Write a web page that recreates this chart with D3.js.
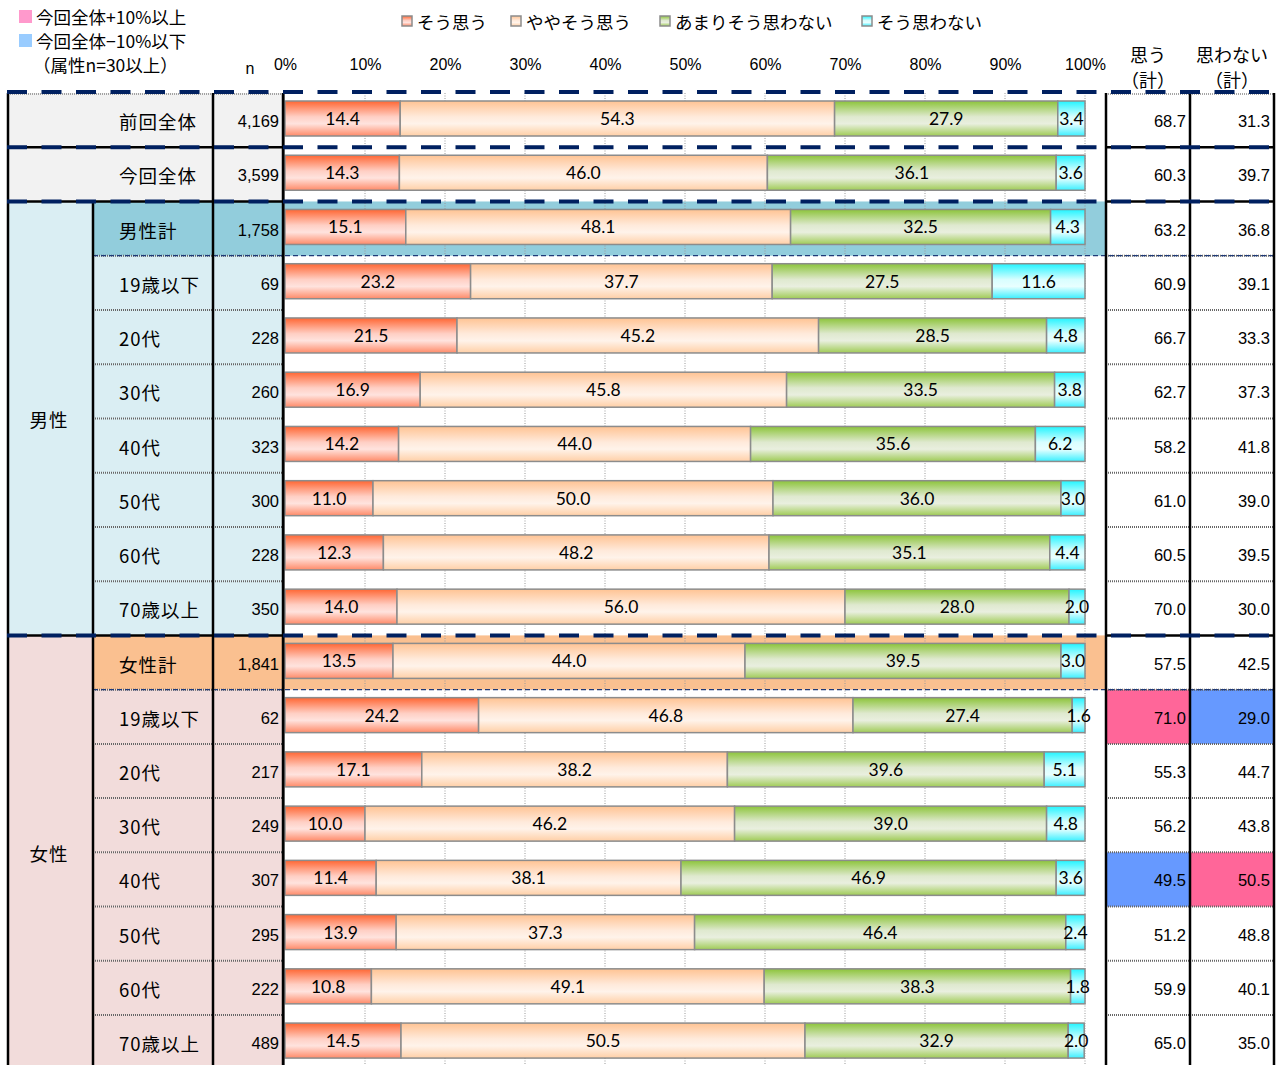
<!DOCTYPE html>
<html>
<head>
<meta charset="utf-8">
<script src="https://cdn.jsdelivr.net/npm/d3@7"></script>
<style>
body { margin: 0; background: #fff; }
svg { display: block; }
</style>
</head>
<body>
<div id="chart"></div>
<script>
// ---- data ----
const rowLabels = ["前回全体","今回全体","男性計","19歳以下","20代","30代","40代","50代","60代","70歳以上",
                   "女性計","19歳以下","20代","30代","40代","50代","60代","70歳以上"];
const nValues = ["4,169","3,599","1,758","69","228","260","323","300","228","350",
                 "1,841","62","217","249","307","295","222","489"];
const groupNames = ["男性","女性"];
const groupRows = [[2, 9], [10, 17]];   // first row = subtotal
const seriesNames = ["そう思う","ややそう思う","あまりそう思わない","そう思わない"];
const soOmou        = [14.4,14.3,15.1,23.2,21.5,16.9,14.2,11.0,12.3,14.0,13.5,24.2,17.1,10.0,11.4,13.9,10.8,14.5];
const yayaSoOmou    = [54.3,46.0,48.1,37.7,45.2,45.8,44.0,50.0,48.2,56.0,44.0,46.8,38.2,46.2,38.1,37.3,49.1,50.5];
const amariOmowanai = [27.9,36.1,32.5,27.5,28.5,33.5,35.6,36.0,35.1,28.0,39.5,27.4,39.6,39.0,46.9,46.4,38.3,32.9];
const soOmowanai    = [3.4,3.6,4.3,11.6,4.8,3.8,6.2,3.0,4.4,2.0,3.0,1.6,5.1,4.8,3.6,2.4,1.8,2.0];
const omouTotal     = [68.7,60.3,63.2,60.9,66.7,62.7,58.2,61.0,60.5,70.0,57.5,71.0,55.3,56.2,49.5,51.2,59.9,65.0];
const omowanaiTotal = [31.3,39.7,36.8,39.1,33.3,37.3,41.8,39.0,39.5,30.0,42.5,29.0,44.7,43.8,50.5,48.8,40.1,35.0];
// +1 : 今回全体+10%以上, -1 : 今回全体-10%以下
const omouMark      = [0,0,0,0,0,0,0,0,0,0,0,1,0,0,-1,0,0,0];
const omowanaiMark  = [0,0,0,0,0,0,0,0,0,0,0,-1,0,0,1,0,0,0];
const tickValues = [0,10,20,30,40,50,60,70,80,90,100];
const legendNotes = ["今回全体+10%以上","今回全体−10%以下","（属性n=30以上）"];
const totalHeaders = [["思う","（計）"],["思わない","（計）"]];

const W = 1285, H = 1065;
const jp = "'Noto Sans CJK JP', 'Noto Sans', sans-serif";
const svg = d3.select("#chart").append("svg").attr("width", W).attr("height", H)
  .style("font-family", jp);

const defs = svg.append("defs");
const grads = [
  ["g0", ["#ff6633","#ffcfc4","#ffe3de","#ff8a68"]],
  ["g1", ["#ffc393","#ffeadb","#fff3ea","#ffcfa6"]],
  ["g2", ["#8cc43a","#dfe9cf","#e9efdf","#9fcb55"]],
  ["g3", ["#22f4ff","#d8feff","#e8ffff","#3aefff"]]
];
grads.forEach(([id, cols]) => {
  const g = defs.append("linearGradient").attr("id", id).attr("x1",0).attr("y1",0).attr("x2",0).attr("y2",1);
  [0, 0.45, 0.65, 1].forEach((o, i) => g.append("stop").attr("offset", o).attr("stop-color", cols[i]));
});
const fills = grads.map(g => "url(#" + g[0] + ")");

// ---- scales ----
const rowH = 54.24, top0 = 93;
const y = d3.scaleBand().domain(d3.range(rowLabels.length))
  .range([top0, top0 + rowH * rowLabels.length]);
const x = d3.scaleLinear().domain([0, 100]).range([285, 1085]);
const bottom = top0 + rowH * rowLabels.length;

const colGroup = 8, colLabel = 93, colN = 213, colChart = 283, chartEnd = 1105,
      colT1 = 1106, colT2 = 1190, colEnd = 1274;

function rowKind(i) {
  if (i < 2) return "all";
  for (let g = 0; g < groupRows.length; g++) {
    if (i === groupRows[g][0]) return "sub" + g;
    if (i > groupRows[g][0] && i <= groupRows[g][1]) return "age" + g;
  }
}
const lightBg = ["#daeef3", "#f2dcdb"], darkBg = ["#92cddc", "#fac090"];

// ---- backgrounds ----
const bg = svg.append("g");
rowLabels.forEach((l, i) => {
  const k = rowKind(i);
  if (k === "all") {
    bg.append("rect").attr("x", colGroup).attr("y", y(i)).attr("width", colChart - colGroup)
      .attr("height", y.bandwidth()).attr("fill", "#f2f2f2");
  } else {
    const g = +k.slice(-1);
    const c = k.startsWith("sub") ? darkBg[g] : lightBg[g];
    bg.append("rect").attr("x", colLabel).attr("y", y(i)).attr("width", colChart - colLabel)
      .attr("height", y.bandwidth()).attr("fill", c);
    if (k.startsWith("sub"))
      bg.append("rect").attr("x", colChart).attr("y", y(i)).attr("width", chartEnd - colChart)
        .attr("height", y.bandwidth()).attr("fill", c);
  }
});
groupRows.forEach(([a, b], g) => {
  bg.append("rect").attr("x", colGroup).attr("y", y(a)).attr("width", colLabel - colGroup)
    .attr("height", y(b) + y.bandwidth() - y(a)).attr("fill", lightBg[g]);
});
const markColor = m => m > 0 ? "#ff6699" : "#6699ff";
rowLabels.forEach((l, i) => {
  if (omouMark[i]) bg.append("rect").attr("x", colT1).attr("y", y(i)).attr("width", colT2 - colT1)
    .attr("height", y.bandwidth()).attr("fill", markColor(omouMark[i]));
  if (omowanaiMark[i]) bg.append("rect").attr("x", colT2).attr("y", y(i)).attr("width", colEnd - colT2)
    .attr("height", y.bandwidth()).attr("fill", markColor(omowanaiMark[i]));
});

// ---- gridlines ----
svg.append("g").selectAll("line").data(tickValues.slice(1)).join("line")
  .attr("x1", d => x(d)).attr("x2", d => x(d)).attr("y1", top0).attr("y2", bottom)
  .attr("stroke", "#9a9a9a").attr("stroke-width", 1).attr("stroke-dasharray", "1,1.5");

// ---- bars ----
const table = rowLabels.map((l, i) => ({
  i, s0: soOmou[i], s1: yayaSoOmou[i], s2: amariOmowanai[i], s3: soOmowanai[i]
}));
const stack = d3.stack().keys(["s0","s1","s2","s3"])(table);
const barH = 35, barOff = 8;
const layers = svg.append("g").selectAll("g").data(stack).join("g").attr("fill", (d, k) => fills[k]);
layers.selectAll("rect").data(d => d).join("rect")
  .attr("x", d => x(d[0])).attr("width", d => x(d[1]) - x(d[0]))
  .attr("y", d => y(d.data.i) + barOff).attr("height", barH)
  .attr("stroke", "#8c8c8c").attr("stroke-width", 1.5);
layers.selectAll("text").data((d, k) => d.map(v => ({v, k}))).join("text")
  .attr("x", d => (x(d.v[0]) + x(d.v[1])) / 2)
  .attr("y", d => y(d.v.data.i) + barOff + barH / 2)
  .attr("text-anchor", "middle").attr("dominant-baseline", "central")
  .attr("fill", "#000").style("font-family", "Lato, 'Liberation Sans', sans-serif").style("font-size", "17.5px")
  .text(d => d3.format(".1f")(d.v.data["s" + d.k]));

// left axis line
svg.append("line").attr("x1", colChart + 1).attr("x2", colChart + 1).attr("y1", top0).attr("y2", bottom)
  .attr("stroke", "#555").attr("stroke-width", 1.5);

// ---- table texts ----
const txt = svg.append("g").attr("fill", "#000");
rowLabels.forEach((l, i) => {
  const cy = y(i) + y.bandwidth() / 2 + 1;
  txt.append("text").attr("x", 119).attr("y", cy).attr("dominant-baseline", "central")
    .style("font-size", "18.5px").style("letter-spacing", "1px").text(l);
  txt.append("text").attr("x", 279).attr("y", cy).attr("dominant-baseline", "central")
    .attr("text-anchor", "end").style("font-family", "'Liberation Sans', Arial, sans-serif")
    .style("font-size", "16.5px").text(nValues[i]);
  txt.append("text").attr("x", 1186).attr("y", cy).attr("dominant-baseline", "central")
    .attr("text-anchor", "end").style("font-family", "'Liberation Sans', Arial, sans-serif")
    .style("font-size", "16.5px").text(d3.format(".1f")(omouTotal[i]));
  txt.append("text").attr("x", 1270).attr("y", cy).attr("dominant-baseline", "central")
    .attr("text-anchor", "end").style("font-family", "'Liberation Sans', Arial, sans-serif")
    .style("font-size", "16.5px").text(d3.format(".1f")(omowanaiTotal[i]));
});
groupRows.forEach(([a, b], g) => {
  txt.append("text").attr("x", 49).attr("y", (y(a) + y(b) + y.bandwidth()) / 2 + 1)
    .attr("text-anchor", "middle").attr("dominant-baseline", "central")
    .style("font-size", "18.5px").style("letter-spacing", "1px").text(groupNames[g]);
});

// ---- borders ----
const lines = svg.append("g");
function hline(x1, x2, yy, stroke, w, dash) {
  lines.append("line").attr("x1", x1).attr("x2", x2).attr("y1", yy).attr("y2", yy)
    .attr("stroke", stroke).attr("stroke-width", w).attr("stroke-dasharray", dash || null);
}
function vline(xx, y1, y2) {
  lines.append("line").attr("x1", xx).attr("x2", xx).attr("y1", y1).attr("y2", y2)
    .attr("stroke", "#000").attr("stroke-width", 2.5);
}
// dotted lines between age rows
rowLabels.forEach((l, i) => {
  if (i === 0) return;
  if (rowKind(i).startsWith("age")) {
    hline(colLabel, colChart, y(i), "#666", 2, "1,1");
    hline(colT1, colEnd, y(i), "#666", 2, "1,1");
  }
});
hline(colGroup, colChart, top0 + 1, "#888", 1.5, "1,1");
hline(colT1, colEnd, top0 + 1, "#888", 1.5, "1,1");
// solid black separators under dashed
[1, 2, groupRows[1][0]].forEach(i => {
  hline(colGroup, colChart, y(i), "#000", 2.5);
  hline(colT1, colEnd, y(i), "#000", 2.5);
});
// thin navy dashed under subtotal rows
groupRows.forEach(([a]) => hline(colLabel, colEnd + 1, y(a + 1), "#1f3a78", 1.2, "5,3"));
// verticals
vline(colGroup, top0, bottom);
vline(colLabel, y(2), bottom);
vline(colN, top0, bottom);
vline(colChart, top0, bottom);
vline(colT1, top0, bottom);
vline(colT2, top0, bottom);
vline(colEnd, top0, bottom);
// thick navy dashed separators
[0, 1, 2, groupRows[1][0]].forEach(i => {
  hline(colGroup - 1, colEnd + 2, y(i) - (i === 0 ? 1 : 0), "#002060", 4, "20,14.5");
});

// ---- header ----
const axis = svg.append("g").attr("transform", "translate(0,70)")
  .call(d3.axisTop(x).tickValues(tickValues).tickFormat(d => d + "%").tickSize(0).tickPadding(0));
axis.select(".domain").remove();
axis.selectAll("text").style("font-family", "'Liberation Sans', Arial, sans-serif")
  .style("font-size", "16px").attr("fill", "#000");

svg.append("text").attr("x", 250).attr("y", 68).attr("text-anchor", "middle")
  .attr("dominant-baseline", "central").style("font-family", "'Liberation Sans', Arial, sans-serif")
  .style("font-size", "16px").attr("fill", "#000").text("n");

totalHeaders.forEach((h, k) => {
  const cx = k === 0 ? (colT1 + colT2) / 2 : (colT2 + colEnd) / 2;
  h.forEach((t, j) => svg.append("text").attr("x", cx).attr("y", 54 + j * 25)
    .attr("text-anchor", "middle").attr("dominant-baseline", "central")
    .style("font-size", "18px").attr("fill", "#000").text(t));
});

// left legend
const noteColors = ["#ff99cc", "#99ccff"];
legendNotes.forEach((t, j) => {
  const cy = 16 + j * 24;
  if (j < 2) svg.append("rect").attr("x", 19).attr("y", cy - 6).attr("width", 13).attr("height", 13)
    .attr("fill", noteColors[j]);
  svg.append("text").attr("x", j < 2 ? 36 : 33).attr("y", cy).attr("dominant-baseline", "central")
    .style("font-size", "17.5px").attr("fill", "#000").text(t);
});

// series legend
const legendX = [402, 511, 660, 862];
seriesNames.forEach((s, k) => {
  svg.append("rect").attr("x", legendX[k]).attr("y", 16).attr("width", 10).attr("height", 10)
    .attr("fill", fills[k]).attr("stroke", "#8c8c8c").attr("stroke-width", 1.5);
  svg.append("text").attr("x", legendX[k] + 15).attr("y", 21.5).attr("dominant-baseline", "central")
    .style("font-size", "17.5px").attr("fill", "#000").text(s);
});
</script>
</body>
</html>
